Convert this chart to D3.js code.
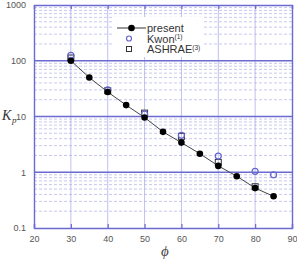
<!DOCTYPE html>
<html>
<head>
<meta charset="utf-8">
<script src="https://cdn.jsdelivr.net/npm/d3@7"></script>
<style>
  body { margin: 0; background: #fff; }
  text { font-family: "Liberation Sans", Arial, sans-serif; }
</style>
</head>
<body>
<div id="chart"></div>
<script>
// angle (deg) and pressure coefficient readings
var presentPhi = [30, 35, 40, 45, 50, 55, 60, 65, 70, 75, 80, 85];
var presentKp = [100, 50, 27.5, 16, 9.6, 5.3, 3.4, 2.15, 1.3, 0.85, 0.52, 0.37];

var kwonPhi = [30, 40, 50, 60, 70, 80, 85];
var kwonKp = [125, 30, 11, 4.6, 1.95, 1.04, 0.9];

var ashraePhi = [30, 40, 50, 60, 70, 80];
var ashraeKp = [112, 29, 11.5, 4.4, 1.5, 0.55];

var xTicks = [20, 30, 40, 50, 60, 70, 80, 90];
var yTicks = [0.1, 1, 10, 100, 1000];

var W = 297, H = 262;
var L = 34, R = 292, T = 5, B = 228;
var gridCol = "#6a6ad0";

var svg = d3.select("#chart").append("svg")
    .attr("width", W)
    .attr("height", H);

var x = d3.scaleLinear().domain([20, 90]).range([L, R]);
var y = d3.scaleLog().domain([0.1, 1000]).range([B, T]);

// minor horizontal grid (2..9 in each decade)
var minor = [];
[0.1, 1, 10, 100].forEach(function (d) {
    for (var k = 2; k <= 9; k++) minor.push(d * k);
});
svg.append("g").selectAll("line").data(minor).enter().append("line")
    .attr("x1", L).attr("x2", R)
    .attr("y1", function (d) { return y(d); })
    .attr("y2", function (d) { return y(d); })
    .attr("stroke", "#b0b0e6")
    .attr("stroke-width", 0.7)
    .attr("stroke-dasharray", "3,2");

// vertical grid
svg.append("g").selectAll("line").data(xTicks.slice(1, -1)).enter().append("line")
    .attr("x1", function (d) { return x(d); })
    .attr("x2", function (d) { return x(d); })
    .attr("y1", T).attr("y2", B)
    .attr("stroke", "#b0b0ea")
    .attr("stroke-width", 0.8);

// major horizontal grid
svg.append("g").selectAll("line").data(yTicks.slice(1, -1)).enter().append("line")
    .attr("x1", L).attr("x2", R)
    .attr("y1", function (d) { return y(d); })
    .attr("y2", function (d) { return y(d); })
    .attr("stroke", gridCol)
    .attr("stroke-width", 1.4);

// axes
var xAxis = svg.append("g")
    .attr("transform", "translate(0," + B + ")")
    .call(d3.axisBottom(x).tickValues(xTicks).tickSize(-4).tickPadding(8));
var xTop = svg.append("g")
    .attr("transform", "translate(0," + T + ")")
    .call(d3.axisTop(x).tickValues(xTicks).tickSize(-4).tickFormat(""));
var yAxis = svg.append("g")
    .attr("transform", "translate(" + L + ",0)")
    .call(d3.axisLeft(y).tickValues(yTicks).tickSize(0).tickPadding(8)
        .tickFormat(function (d) { return d >= 1 ? d3.format("d")(d) : d; }));
var yRight = svg.append("g")
    .attr("transform", "translate(" + R + ",0)")
    .call(d3.axisRight(y).tickValues(yTicks).tickSize(0).tickFormat(""));

[xAxis, xTop, yAxis, yRight].forEach(function (a) {
    a.select(".domain").attr("stroke", gridCol).attr("stroke-width", 1.4);
    a.selectAll(".tick line").attr("stroke", gridCol).attr("stroke-width", 1.2);
    a.selectAll("text").attr("font-size", 9).attr("fill", "#555")
        .style("font-family", "Liberation Sans, Arial, sans-serif");
});

// axis titles
svg.append("text")
    .attr("x", 2).attr("y", 120)
    .style("font-family", "Liberation Serif, serif")
    .style("font-style", "italic")
    .attr("font-size", 14).attr("fill", "#333")
    .text("K");
svg.append("text")
    .attr("x", 12).attr("y", 123)
    .style("font-family", "Liberation Serif, serif")
    .style("font-style", "italic")
    .attr("font-size", 9).attr("fill", "#333")
    .text("p");
svg.append("text")
    .attr("x", (L + R) / 2 + 2).attr("y", 256)
    .attr("text-anchor", "middle")
    .style("font-family", "Liberation Serif, serif")
    .style("font-style", "italic")
    .attr("font-size", 15).attr("fill", "#444")
    .text("\u03d5");

var present = presentPhi.map(function (d, i) { return { phi: d, kp: presentKp[i] }; });
var kwon = kwonPhi.map(function (d, i) { return { phi: d, kp: kwonKp[i] }; });
var ashrae = ashraePhi.map(function (d, i) { return { phi: d, kp: ashraeKp[i] }; });

// ASHRAE squares
svg.append("g").selectAll("rect").data(ashrae).enter().append("rect")
    .attr("x", function (d) { return x(d.phi) - 3; })
    .attr("y", function (d) { return y(d.kp) - 3; })
    .attr("width", 6).attr("height", 6)
    .attr("fill", "none")
    .attr("stroke", "#333")
    .attr("stroke-width", 1);

// Kwon circles
svg.append("g").selectAll("circle").data(kwon).enter().append("circle")
    .attr("cx", function (d) { return x(d.phi); })
    .attr("cy", function (d) { return y(d.kp); })
    .attr("r", 3)
    .attr("fill", "none")
    .attr("stroke", "#6464d2")
    .attr("stroke-width", 1.2);

// present line and points
var line = d3.line()
    .x(function (d) { return x(d.phi); })
    .y(function (d) { return y(d.kp); });
svg.append("path").datum(present)
    .attr("d", line)
    .attr("fill", "none")
    .attr("stroke", "#444")
    .attr("stroke-width", 1);
svg.append("g").selectAll("circle").data(present).enter().append("circle")
    .attr("cx", function (d) { return x(d.phi); })
    .attr("cy", function (d) { return y(d.kp); })
    .attr("r", 3.3)
    .attr("fill", "#000");

// legend
var lg = svg.append("g");
lg.append("rect")
    .attr("x", 112).attr("y", 17).attr("width", 92).attr("height", 40)
    .attr("fill", "#fff");
lg.append("line")
    .attr("x1", 117).attr("x2", 146).attr("y1", 28).attr("y2", 28)
    .attr("stroke", "#333").attr("stroke-width", 1);
lg.append("circle").attr("cx", 131.5).attr("cy", 28).attr("r", 3.3).attr("fill", "#000");
lg.append("circle").attr("cx", 129).attr("cy", 38.5).attr("r", 2.5)
    .attr("fill", "none").attr("stroke", "#6464d2").attr("stroke-width", 1.2);
lg.append("rect").attr("x", 126.5).attr("y", 46.5).attr("width", 5).attr("height", 5)
    .attr("fill", "none").attr("stroke", "#333").attr("stroke-width", 1);

var labels = [["present", null, 32], ["Kwon", "(1)", 42.5], ["ASHRAE", "(3)", 53]];
labels.forEach(function (l) {
    var t = lg.append("text")
        .attr("x", 147).attr("y", l[2])
        .attr("font-size", 11).attr("fill", "#333")
        .text(l[0]);
    if (l[1]) {
        t.append("tspan")
            .attr("font-size", 6.5).attr("dy", -3.5)
            .text(l[1]);
    }
});
</script>
</body>
</html>
